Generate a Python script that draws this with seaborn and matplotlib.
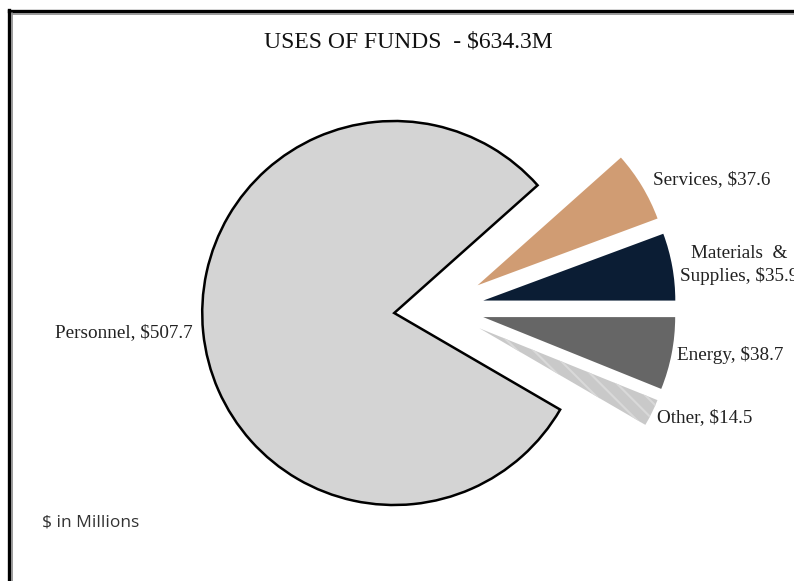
import matplotlib
matplotlib.use("Agg")
import matplotlib.pyplot as plt
from matplotlib.lines import Line2D
import seaborn as sns

sns.set_theme(style="white")
plt.rcParams["font.family"] = ["Liberation Serif", "DejaVu Serif"]
plt.rcParams["hatch.linewidth"] = 1.5

# Uses of funds, $ in millions
categories = ["Personnel", "Services", "Materials &\nSupplies", "Energy", "Other"]
amounts = [507.7, 37.6, 35.9, 38.7, 14.5]
colors = ["#D4D4D4", "#D09C73", "#0B1D34", "#666666", "#C9C9C9"]
title_text = "USES OF FUNDS  - $634.3M"

W, H = 794, 581
fig = plt.figure(figsize=(W / 100, H / 100), dpi=100)
fig.patch.set_facecolor("white")
ax = fig.add_axes([0, 0, 1, 1])

radius = 192
center = (439, H - 308.5)
wedges, _ = ax.pie(
    amounts,
    colors=colors,
    startangle=329.8,
    counterclock=False,
    radius=radius,
    center=center,
    explode=[45] * len(amounts),
    frame=True,
    wedgeprops=dict(linewidth=0),
)
# outline on the large slice only
wedges[0].set_edgecolor("black")
wedges[0].set_linewidth(1.8)
# soft streaky texture for the small grey slice
wedges[4].set_hatch("\\\\")
wedges[4].set_edgecolor("#D9D9D9")
wedges[4].set_linewidth(0)

ax.set_xlim(0, W)
ax.set_ylim(0, H)
ax.set_aspect("equal")
ax.axis("off")

def fmt(name, val):
    return f"{name}, ${val:.1f}"

lab_fs = 13.8
txt = "#222222"
ax.text(193, H - 333, fmt(categories[0], amounts[0]), ha="right", va="center",
        fontsize=lab_fs, color=txt)
ax.text(653, H - 180, fmt(categories[1], amounts[1]), ha="left", va="center",
        fontsize=lab_fs, color=txt)
mat_top, mat_bottom = categories[2].split("\n")
ax.text(739, H - 253, mat_top.replace(" &", "  &"), ha="center", va="center",
        fontsize=lab_fs, color=txt)
ax.text(680, H - 276, fmt(mat_bottom, amounts[2]), ha="left", va="center",
        fontsize=lab_fs, color=txt)
ax.text(677, H - 355, fmt(categories[3], amounts[3]), ha="left", va="center",
        fontsize=lab_fs, color=txt)
ax.text(657, H - 418, fmt(categories[4], amounts[4]), ha="left", va="center",
        fontsize=lab_fs, color=txt)

ax.text(408, H - 42, title_text, ha="center", va="center", fontsize=17,
        color="#111111")
ax.text(42, H - 523, "$ in Millions", ha="left", va="center", fontsize=12.5,
        family=["Open Sans", "DejaVu Sans"], color="#333333")

# frame lines along the left and top edges
fig.add_artist(Line2D([9 / W, 9 / W], [0, 1 - 10 / H], color="black", lw=2.4,
                      solid_capstyle="projecting", transform=fig.transFigure))
fig.add_artist(Line2D([9 / W, 1], [1 - 11 / H, 1 - 11 / H], color="black", lw=2.4,
                      solid_capstyle="projecting", transform=fig.transFigure))
fig.add_artist(Line2D([11.5 / W, 11.5 / W], [0, 1 - 13 / H], color="#8A8A8A", lw=1.2,
                      transform=fig.transFigure))
fig.add_artist(Line2D([11.5 / W, 1], [1 - 13.5 / H, 1 - 13.5 / H], color="#8A8A8A", lw=1.2,
                      transform=fig.transFigure))

fig.savefig("out.png", dpi=100, facecolor="white")
